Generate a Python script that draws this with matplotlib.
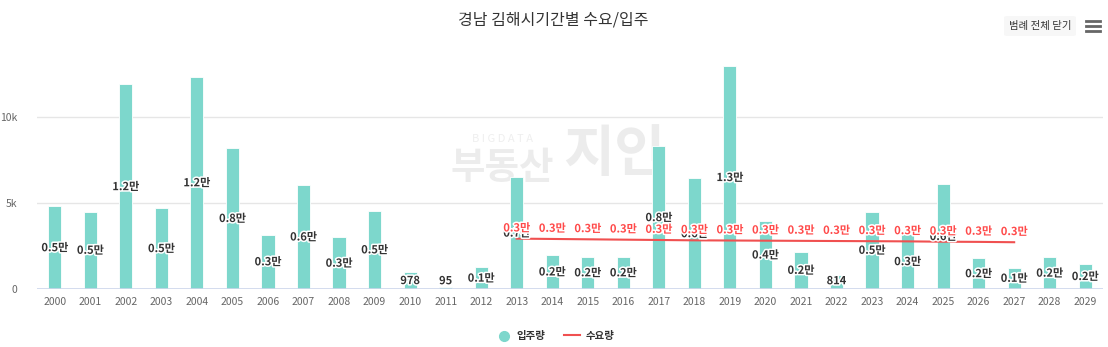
import matplotlib
matplotlib.use("Agg")
import matplotlib.pyplot as plt
import matplotlib.patheffects as pe
from matplotlib.patches import FancyBboxPatch
from matplotlib.lines import Line2D
import numpy as np

plt.rcParams['font.family'] = ['Noto Sans CJK KR', 'DejaVu Sans']

years = [str(y) for y in range(2000, 2030)]
supply = [4800, 4500, 11900, 4700, 12350, 8200, 3160, 6050, 3000, 4550,
          978, 95, 1260, 6500, 1980, 1880, 1880, 8300, 6430, 12960,
          3950, 2170, 814, 4500, 3180, 6100, 1780, 1240, 1840, 1450]
supply_labels = ['0.5만', '0.5만', '1.2만', '0.5만', '1.2만', '0.8만', '0.3만', '0.6만', '0.3만', '0.5만',
                 '978', '95', '0.1만', '0.7만', '0.2만', '0.2만', '0.2만', '0.8만', '0.6만', '1.3만',
                 '0.4만', '0.2만', '814', '0.5만', '0.3만', '0.6만', '0.2만', '0.1만', '0.2만', '0.2만']
demand_years = [str(y) for y in range(2013, 2028)]
demand = [2930, 2910, 2890, 2870, 2850, 2830, 2820, 2810, 2800, 2790,
          2780, 2770, 2750, 2740, 2720]
demand_labels = ['0.3만'] * len(demand)

W, H = 1108, 347
fig = plt.figure(figsize=(W / 100, H / 100), dpi=100)
ax_left, ax_right = 37, 1103
ax_bottom, ax_top = 289, 62
ax = fig.add_axes([ax_left / W, 1 - ax_bottom / H, (ax_right - ax_left) / W, (ax_bottom - ax_top) / H])

x = np.arange(len(years))
bar_color = '#7dd7cc'
ax.bar(x, supply, width=0.37, color=bar_color, edgecolor='white', linewidth=0.6, zorder=2)

ymax = 13200
ax.set_ylim(0, ymax)
ax.set_xlim(-0.5, len(years) - 0.5)

# watermark (behind bars)
def fx(px):
    return (px - ax_left) / (ax_right - ax_left)
def fy(py):
    return (ax_bottom - py) / (ax_bottom - ax_top)
ax.text(fx(503), fy(139), 'B I G D A T A', transform=ax.transAxes, color='#efefef', fontsize=8,
        ha='center', va='center', zorder=1)
ax.text(fx(502), fy(168), '부동산', transform=ax.transAxes, color='#ececec', fontsize=27,
        fontweight='bold', ha='center', va='center', zorder=1)
ax.text(fx(614), fy(155), '지인', transform=ax.transAxes, color='#ececec', fontsize=40,
        fontweight='bold', ha='center', va='center', zorder=1)

# grid
for v in [5000, 10000]:
    ax.axhline(v, color='#e6e6e6', linewidth=1, zorder=1)
ax.axhline(0, color='#ccd6eb', linewidth=1.2, zorder=3)

outline = [pe.withStroke(linewidth=2.2, foreground='white')]
for i, (v, lab) in enumerate(zip(supply, supply_labels)):
    yl = max(v / 2, 480)
    ax.text(i, yl, lab, ha='center', va='center', fontsize=8, color='#333333',
            fontweight='bold', path_effects=outline, zorder=5)

dx = [years.index(y) for y in demand_years]
ax.plot(dx, demand, color='#f05050', linewidth=1.5, zorder=4)
for i, v, lab in zip(dx, demand, demand_labels):
    ax.text(i, v + 620, lab, ha='center', va='center', fontsize=8, color='#ff4a4a',
            fontweight='bold', path_effects=outline, zorder=6)

ax.set_xticks(x)
ax.set_xticklabels(years, fontsize=7.5, color='#666666')
ax.set_yticks([0, 5000, 10000])
ax.set_yticklabels(['0', '5k', '10k'], fontsize=7.5, color='#666666')
ax.tick_params(axis='both', length=0, pad=6)
ax.tick_params(axis='y', pad=14)
for s in ax.spines.values():
    s.set_visible(False)
ax.patch.set_alpha(0)

# title
fig.text(553 / W, 1 - 20 / H, '경남 김해시기간별 수요/입주', ha='center', va='center',
         fontsize=11.5, color='#333333', fontweight='medium')

# button
btn = FancyBboxPatch(((1004) / W, 1 - 36 / H), 72 / W, 20 / H,
                     boxstyle='round,pad=0,rounding_size=0.004', transform=fig.transFigure,
                     facecolor='#f7f7f7', edgecolor='none')
fig.patches.append(btn)
fig.text(1040 / W, 1 - 26 / H, '범례 전체 닫기', ha='center', va='center', fontsize=7.5, color='#333333')
for yy in [21, 26, 31]:
    fig.add_artist(Line2D([1086 / W, 1100 / W], [1 - yy / H, 1 - yy / H], color='#666666', linewidth=2,
                          transform=fig.transFigure))

# legend
fig.add_artist(Line2D([504 / W], [1 - 336 / H], marker='o', markersize=7, color=bar_color,
                      linestyle='none', transform=fig.transFigure))
fig.text(516 / W, 1 - 336 / H, '입주량', ha='left', va='center', fontsize=7.5, color='#333333', fontweight='bold')
fig.add_artist(Line2D([564 / W, 580 / W], [1 - 335 / H, 1 - 335 / H], color='#f05050', linewidth=1.5,
                      transform=fig.transFigure))
fig.text(586 / W, 1 - 336 / H, '수요량', ha='left', va='center', fontsize=7.5, color='#333333', fontweight='bold')

fig.savefig('out.png', dpi=100)
